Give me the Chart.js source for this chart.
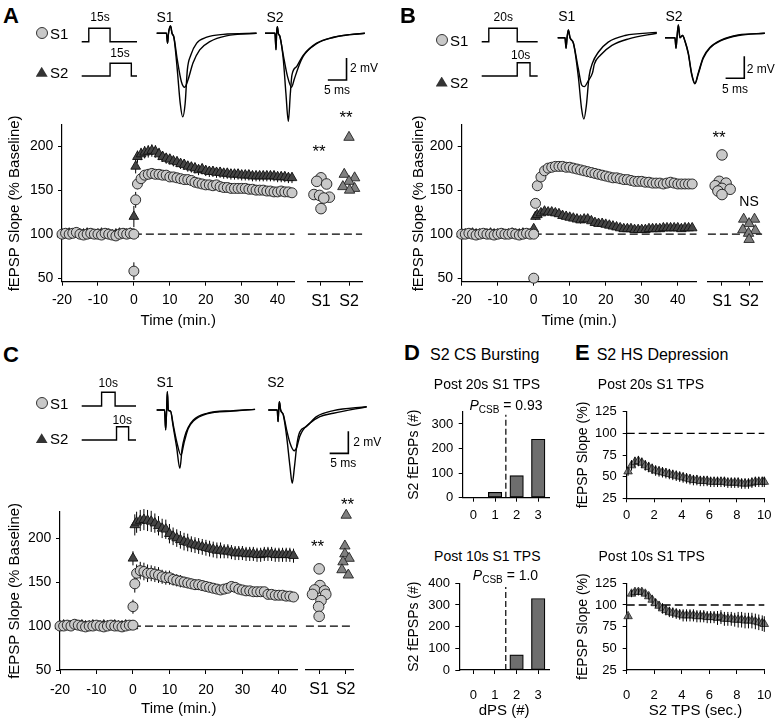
<!DOCTYPE html>
<html><head><meta charset="utf-8">
<script src="https://cdn.jsdelivr.net/npm/chart.js@4.4.1/dist/chart.umd.min.js"></script>
<style>
html,body{margin:0;padding:0;background:#fff;overflow:hidden;}
#root{position:relative;width:775px;height:723px;overflow:hidden;font-family:'Liberation Sans',Arial,Helvetica,sans-serif;color:#000;}
#root canvas{position:absolute;}
.t{position:absolute;line-height:1;white-space:nowrap;}
.t sub{font-size:10px;vertical-align:-3px;line-height:0;}
.mc{position:absolute;width:10px;height:10px;border-radius:50%;background:#c8c8c8;border:1px solid #333;transform:translate(-50%,-50%);}
.mt{position:absolute;width:12px;height:10px;background:#333;clip-path:polygon(50% 0,100% 100%,0 100%);transform:translate(-50%,-50%);}
</style></head><body><div id="root"></div>
<script>
// ---------------- DATA ----------------
const baseTimes = [-20,-19,-18,-17,-16,-15,-14,-13,-12,-11,-10,-9,-8,-7,-6,-5,-4,-3,-2,-1,0];
const postTimes = [0,0.5,1,2,3,4,5,6,7,8,9,10,11,12,13,14,15,16,17,18,19,20,21,22,23,24,25,26,27,28,29,30,31,32,33,34,35,36,37,38,39,40,41,42,43,44];
const timeTicks = [-20,-10,0,10,20,30,40];
const slopeTicks = [50,100,150,200];
const sideCategories = ['S1','S2'];
const baseSem = [2,2,2,2,2,2,2,2,2,2,2,2,2,2,2,2,2,2,2,2,2];

// Panel A
const aS1Base = [100,101,100,101,102,100,99,100,101,100,100,99,101,100,99,98,100,101,100,101,100];
const aS1Post = [58,139,157,163,167,168,169,168,168,167,167,165,165,164,163,162,162,161,159,158,157,156,156,155,156,154,153,153,152,152,152,152,152,151,151,150,150,150,149,149,148,148,149,148,148,147];
const aS1Sem  = [10,9,6,5,5,4,4,4,4,4,4,4,4,4,4,4,4,3,3,3,3,3,3,3,3,3,3,3,3,3,3,3,3,3,3,3,3,3,3,3,3,3,3,3,3,3];
const aS2Base = [100,100,101,100,101,100,100,101,100,99,100,101,100,100,99,100,101,100,100,101,100];
const aS2Post = [120,177,188,191,193,194,195,194,191,188,186,185,183,182,180,179,177,176,175,173,174,172,171,171,170,170,169,169,168,168,168,167,167,167,166,166,166,166,166,166,166,165,165,165,164,164];
const aS2Sem  = [12,8,7,7,7,7,7,7,7,6,6,6,6,6,6,6,6,6,6,6,6,6,6,6,6,6,6,6,6,6,6,6,6,6,6,6,6,6,6,6,6,6,6,6,6,6];
const aS1Side  = [164,160,157,145,144,142,141,129];
const aS1SideX = [1.0,0.85,1.2,0.75,0.95,1.3,1.1,1.0];
const aS2Side  = [210,168,164,160,154,152,150];
const aS2SideX = [2.0,1.83,2.2,2.0,1.78,2.2,2.02];

// Panel B
const bS1Base = [100,100,101,100,99,100,101,100,100,99,100,101,100,100,101,100,99,100,101,100,100];
const bS1Post = [50,135,155,165,172,175,176,177,177,177,176,176,175,174,173,172,171,170,169,168,167,166,165,164,164,163,162,162,161,160,160,160,159,159,158,158,158,157,158,159,158,157,157,157,157,157];
const bS1Sem  = [4,5,4,3,3,3,3,3,3,3,3,3,3,3,3,3,3,3,3,3,3,3,3,3,3,3,3,3,3,3,3,3,3,3,3,3,3,3,3,3,3,3,3,3,3,3];
const bS2Base = [100,100,100,101,100,100,99,100,101,100,100,100,99,100,101,100,100,101,100,100,101];
const bS2Post = [106,120,122,124,126,125,125,124,123,121,120,119,118,117,116,117,117,115,113,112,112,111,110,109,108,107,106,106,106,105,105,105,105,106,106,106,106,107,107,107,107,107,106,107,107,107];
const bS2Sem  = [4,4,4,4,4,4,4,4,4,4,4,4,4,4,4,4,4,3,3,3,3,3,3,3,3,3,3,3,3,3,3,3,3,3,3,3,3,3,3,3,3,3,3,3,3,3];
const bS1Side  = [190,160,158,155,152,151,149,145];
const bS1SideX = [1.0,0.9,1.15,0.75,1.0,1.3,0.85,1.0];
const bS2Side  = [117,117,112,105,104,101,94];
const bS2SideX = [1.8,2.2,2.0,1.77,2.23,1.98,2.0];

// Panel C
const cS1Base = [100,100,101,100,102,101,100,99,100,100,101,100,99,100,101,100,100,99,100,101,101];
const cS1Post = [122,148,160,163,162,160,160,159,158,156,155,155,153,152,151,150,149,148,147,147,146,145,144,143,142,141,142,143,145,144,142,141,140,140,139,139,139,139,136,136,135,135,135,134,134,133];
const cS1Sem  = [8,10,10,10,10,10,9,9,9,8,8,8,7,7,7,6,6,6,6,6,6,5,5,5,5,5,5,5,5,5,5,5,5,5,4,4,4,4,4,4,4,4,4,4,4,4];
const cS2Base = [100,101,100,100,101,100,101,100,100,101,100,100,101,100,100,101,100,100,101,100,100];
const cS2Post = [177,215,218,220,221,220,219,217,214,211,210,205,202,200,198,196,195,193,192,191,190,189,188,187,186,186,185,185,184,183,183,183,182,182,182,181,181,182,182,182,181,181,181,181,181,180];
const cS2Sem  = [8,12,12,12,12,12,12,11,11,11,11,11,10,10,10,10,10,9,9,9,9,9,9,9,9,9,8,8,8,8,8,8,8,8,8,8,8,8,8,8,8,8,8,8,8,8];
const cS1Side  = [165,146,141,140,136,136,129,122,111];
const cS1SideX = [1.0,1.03,0.83,1.2,0.75,1.25,1.07,0.98,1.0];
const cS2Side  = [226,191,182,177,173,164,158];
const cS2SideX = [2.02,1.97,1.97,2.13,1.9,1.86,2.1];

// Panel D
const dpsCategories = [0,1,2,3];
const dTopCounts = [0,22,90,238];
const dBotCounts = [0,0,70,330];
const csbThreshold = 1.5;

// Panel E
const eTimes = [0.1,0.35,0.6,0.85,1.1,1.35,1.6,1.85,2.1,2.35,2.6,2.85,3.1,3.35,3.6,3.85,4.1,4.35,4.6,4.85,5.1,5.35,5.6,5.85,6.1,6.35,6.6,6.85,7.1,7.35,7.6,7.85,8.1,8.35,8.6,8.85,9.1,9.35,9.6,9.85,10];
const eTopSlope = [56,63,67,68,66,63,61,59,57,56,55,54,53,52,51,50,49,48,47,46,46,45,45,45,44,44,44,44,44,43,43,43,43,42,42,42,43,44,44,44,44];
const eTopSem   = [5,6,6,6,6,6,6,6,6,6,6,6,6,6,6,6,6,6,6,6,6,6,6,6,6,6,6,6,6,6,6,6,6,6,6,6,6,6,6,6,6];
const eBotSlope = [87,113,115,115,115,113,110,106,102,99,96,94,92,91,90,89,88,88,88,88,87,87,87,86,86,86,85,86,84,84,84,83,83,83,82,82,82,81,80,79,78];
const eBotSem   = [3,4,4,4,4,4,4,5,5,5,6,6,6,6,6,6,7,7,7,7,7,7,7,7,7,7,8,8,8,8,8,8,9,9,9,9,9,9,9,9,9];
const eXTicks = [0,2,4,6,8,10];
const eYTicks = [25,50,75,100,125];

// Stimulus protocol (seconds)
const pulseLevels = [0,0,1,1,0,0];
const aPulseS1 = [0,5,5,20,20,39];
const aPulseS2 = [0,20,20,35,35,39];
const bPulseS1 = [0,5,5,25,25,39.4];
const bPulseS2 = [0,25,25,34,34,39.4];
const cPulseS1 = [0,14,14,23.5,23.5,38.2];
const cPulseS2 = [0,24.5,24.5,33,33,38.2];

// Example fEPSP traces (ms, mV)
const aS1TrT1 = [0,2.6,2.9,3.15,3.7,4.1,4.6,5.5,6.3,6.95,7.6,8.2,9.1,10.7,13.4,17.8,26.7];
const aS1TrV1 = [0,0,-0.9,0,0.67,0,-0.36,-3.3,-6.4,-7.6,-6.4,-3.3,-2.0,-0.9,-0.35,-0.1,0];
const aS1TrT2 = [0,2.6,2.9,3.15,3.7,4.1,4.6,5.5,6.6,7.5,8.4,9.7,11.5,14.2,18.6,26.7];
const aS1TrV2 = [0,0,-0.9,0,0.67,0,-0.36,-2.4,-4.4,-4.9,-4.2,-2.7,-1.5,-0.76,-0.24,0];
const aS2TrT1 = [0,2.67,2.94,3.1,3.3,3.56,4.0,4.9,5.6,6.24,6.77,7.2,8.5,10.2,13.8,18.3,22.7,26.7];
const aS2TrV1 = [0,0,-1.5,0,0.6,0,-0.3,-2.4,-5.5,-8.0,-5.5,-3.8,-3.0,-2.0,-0.9,-0.36,-0.12,0];
const aS2TrT2 = [0,2.67,2.94,3.1,3.3,3.56,4.0,4.9,6.0,7.1,7.8,8.9,10.2,13.8,18.3,22.7,26.7];
const aS2TrV2 = [0,0,-1.5,0,0.6,0,-0.3,-2.0,-3.9,-4.9,-4.2,-3.1,-2.1,-0.95,-0.38,-0.12,0];
const bS1TrT1 = [0,1.96,2.23,2.5,2.85,3.3,4.2,5.5,6.4,7.0,7.65,8.4,9.3,10.9,13.5,18.0,26.5];
const bS1TrV1 = [0,0,-0.97,0,0.7,0,-0.5,-3.5,-6.5,-7.4,-6.2,-3.5,-2.3,-1.3,-0.4,0.2,0.48];
const bS1TrT2 = [0,1.96,2.23,2.5,2.85,3.3,4.2,5.5,6.4,7.1,8.2,9.3,9.8,11.4,14.5,19.0,26.5];
const bS1TrV2 = [0,0,-0.97,0,0.7,0,-0.5,-2.8,-4.3,-4.45,-3.9,-3.2,-2.4,-1.6,-0.7,-0.1,0.4];
const bS2TrT1 = [0,2.67,2.94,3.2,3.57,4.0,4.7,5.35,6.24,7.1,8.0,8.9,10.2,12.0,15.1,19.6,26.7];
const bS2TrV1 = [0,0,-0.97,0,1.15,0,0.2,-0.3,-1.4,-3.2,-4.15,-3.2,-1.8,-0.9,-0.2,0.25,0.4];
const bS2TrV2 = [0,0,-0.97,0,1.15,0,0.2,-0.35,-1.5,-3.3,-4.2,-3.3,-1.9,-0.95,-0.25,0.2,0.4];
const cS1TrT1 = [0,2.1,2.4,2.65,2.85,3.1,3.7,4.4,5.3,6.2,6.8,7.5,8.4,9.8,13.4,20.5,26.3];
const cS1TrV1 = [0,0,-1.8,0,1.67,0,-0.1,-1.5,-3.3,-5.3,-3.5,-2.4,-1.6,-0.9,-0.3,-0.06,0.06];
const cS1TrT2 = [0,2.1,2.4,2.65,2.85,3.1,3.7,4.4,5.3,6.5,7.3,8.4,9.8,13.4,20.5,26.3];
const cS1TrV2 = [0,0,-1.8,0,1.67,0,-0.1,-1.3,-2.8,-4.1,-3.0,-1.7,-1.0,-0.35,-0.1,0.06];
const cS2TrT1 = [0,2.4,2.6,2.78,2.96,3.3,4.0,4.9,5.8,6.4,7.0,7.7,8.4,10.2,12.9,17.4,26.3];
const cS2TrV1 = [0,0,-1.06,0,0.76,0,-0.45,-2.4,-5.15,-6.67,-5.15,-3.0,-2.0,-1.5,-0.6,-0.06,0.3];
const cS2TrT2 = [0,2.4,2.6,2.78,2.96,3.3,4.0,4.9,5.8,6.9,7.6,8.4,9.3,11.1,13.8,17.4,26.3];
const cS2TrV2 = [0,0,-1.06,0,0.76,0,-0.4,-1.8,-3.0,-3.7,-3.4,-2.4,-1.8,-1.2,-0.6,-0.3,0.3];
const scaleBarMs = 5, scaleBarMv = 2;

// ---------------- RENDERING ----------------
const FONT = "'Liberation Sans', Arial, Helvetica, sans-serif";
Chart.defaults.font.family = FONT;
Chart.defaults.color = '#000';
const root = document.getElementById('root');
const pts = (xs, ys) => xs.map((x, i) => ({x: x, y: ys[i]}));

function drawErr(chart) {
  const ctx = chart.ctx, ys = chart.scales.y;
  chart.data.datasets.forEach((ds, i) => {
    if (!ds.errors) return;
    const meta = chart.getDatasetMeta(i);
    ctx.save(); ctx.strokeStyle = '#000'; ctx.lineWidth = 1;
    meta.data.forEach((el, j) => {
      const e = ds.errors[j]; if (e == null) return;
      const v = ds.data[j].y;
      ctx.beginPath();
      ctx.moveTo(el.x, ys.getPixelForValue(v - e));
      ctx.lineTo(el.x, ys.getPixelForValue(v + e));
      ctx.stroke();
    });
    ctx.restore();
  });
}
const errBack = {id: 'errBack', beforeDatasetsDraw: drawErr};
const errFront = {id: 'errFront', afterDatasetsDraw: drawErr};

function mount(area, m, cfg, plugins) {
  const cl = Math.floor(area.l - m.l), ct = Math.floor(area.t - m.t);
  const cr = Math.ceil(area.r + m.r), cb = Math.ceil(area.b + m.b);
  const W = cr - cl, H = cb - ct;
  const c = document.createElement('canvas');
  c.width = W; c.height = H;
  c.style.left = cl + 'px'; c.style.top = ct + 'px';
  c.style.width = W + 'px'; c.style.height = H + 'px';
  root.appendChild(c);
  const L = area.l - cl, Tp = area.t - ct, R = cr - area.r, B = cb - area.b;
  const sx = cfg.options.scales.x, sy = cfg.options.scales.y;
  const xShow = sx.display !== false, yShow = sy.display !== false;
  if (yShow) sy.afterFit = s => { s.width = L; };
  if (xShow) sx.afterFit = s => { s.height = B; };
  cfg.options.layout = {padding: {left: yShow ? 0 : L, top: Tp, right: R, bottom: xShow ? 0 : B}};
  Object.assign(cfg.options, {responsive: false, maintainAspectRatio: false, animation: false, devicePixelRatio: 1, events: []});
  cfg.options.plugins = {legend: {display: false}, tooltip: {enabled: false}};
  if (plugins) cfg.plugins = plugins;
  return new Chart(c, cfg);
}

function axis(o) {
  return {
    type: 'linear', min: o.min, max: o.max, offset: false,
    afterBuildTicks: s => { s.ticks = o.ticks.map(v => ({value: v})); },
    ticks: {font: {size: o.fs}, padding: o.pad, color: '#000', autoSkip: false, maxRotation: 0, minRotation: 0,
            callback: o.fmt || (v => String(v))},
    grid: {display: true, drawOnChartArea: false, drawTicks: true, tickLength: 4, color: '#000', lineWidth: 1, offset: false},
    border: {display: true, color: '#000', width: 1.2},
    title: o.title ? {display: true, text: o.title, font: {size: o.ts}, padding: 0, color: '#000'} : {display: false}
  };
}
const hidden = (min, max) => ({type: 'linear', display: false, min: min, max: max});

const circleStyle = {pointStyle: 'circle', pointRadius: 5, pointBackgroundColor: '#c9c9c9', pointBorderColor: '#1a1a1a', pointBorderWidth: 0.9, showLine: false, clip: false};
const triStyle = {pointStyle: 'triangle', pointRadius: 5.6, pointBackgroundColor: '#454545', pointBorderColor: '#111', pointBorderWidth: 0.9, showLine: false, clip: false};
const triSide = Object.assign({}, triStyle, {pointRadius: 6, pointBackgroundColor: '#808080', pointBorderColor: '#222'});
const circSide = Object.assign({}, circleStyle, {pointRadius: 5.3});
const dashStyle = {borderColor: '#000', borderWidth: 1.3, borderDash: [8, 4], pointRadius: 0, showLine: true, clip: false, tension: 0};

function timeCourse(P) {
  const xs = baseTimes.concat(postTimes);
  mount(P.main, {l: P.yl, t: 16, r: 6, b: P.xb}, {
    type: 'line',
    data: {datasets: [
      Object.assign({}, circleStyle, {data: pts(xs, P.s1b.concat(P.s1p)), errors: baseSem.concat(P.s1e)}),
      Object.assign({}, triStyle, {data: pts(xs, P.s2b.concat(P.s2p)), errors: baseSem.concat(P.s2e)}),
      Object.assign({}, dashStyle, {data: [{x: 0, y: 100}, {x: P.xMax, y: 100}]})
    ]},
    options: {scales: {
      x: axis({min: -20, max: P.xMax, ticks: timeTicks, fs: 14, pad: P.xpad, title: 'Time (min.)', ts: 15}),
      y: axis({min: P.yMin, max: P.yMax, ticks: slopeTicks, fs: 14, pad: 4.7, title: 'fEPSP Slope (% Baseline)', ts: 15})
    }}
  }, [errBack]);
  mount(P.side, {l: 4, t: 16, r: 6, b: P.xb}, {
    type: 'line',
    data: {datasets: [
      Object.assign({}, circSide, {data: pts(P.s1sx, P.s1s)}),
      Object.assign({}, triSide, {data: pts(P.s2sx, P.s2s)}),
      Object.assign({}, dashStyle, {data: [{x: P.sMin, y: 100}, {x: P.sMax, y: 100}]})
    ]},
    options: {scales: {
      x: axis({min: P.sMin, max: P.sMax, ticks: [1, 2], fmt: v => sideCategories[v - 1], fs: 16, pad: 6.4}),
      y: hidden(P.yMin, P.yMax)
    }}
  });
}

timeCourse({main: {l: 62, t: 125, r: 295, b: 281.7}, side: {l: 305, t: 125, r: 363, b: 281.7},
  yl: 56, xb: 48.3, xpad: 6, xMax: 44.7, yMin: 46, yMax: 224, sMin: 0.533, sMax: 2.467,
  s1b: aS1Base, s1p: aS1Post, s1e: aS1Sem, s2b: aS2Base, s2p: aS2Post, s2e: aS2Sem,
  s1s: aS1Side, s1sx: aS1SideX, s2s: aS2Side, s2sx: aS2SideX});
timeCourse({main: {l: 461.7, t: 125, r: 697, b: 281.7}, side: {l: 705, t: 125, r: 763, b: 281.7},
  yl: 51.7, xb: 48.3, xpad: 6, xMax: 45.2, yMin: 46, yMax: 224, sMin: 0.48, sMax: 2.48,
  s1b: bS1Base, s1p: bS1Post, s1e: bS1Sem, s2b: bS2Base, s2p: bS2Post, s2e: bS2Sem,
  s1s: bS1Side, s1sx: bS1SideX, s2s: bS2Side, s2sx: bS2SideX});
timeCourse({main: {l: 60, t: 511.7, r: 298, b: 670}, side: {l: 303, t: 511.7, r: 357, b: 670},
  yl: 54, xb: 48, xpad: 7.6, xMax: 45.1, yMin: 50, yMax: 230, sMin: 0.5, sMax: 2.3,
  s1b: cS1Base, s1p: cS1Post, s1e: cS1Sem, s2b: cS2Base, s2p: cS2Post, s2e: cS2Sem,
  s1s: cS1Side, s1sx: cS1SideX, s2s: cS2Side, s2sx: cS2SideX});

// Panel D bars
function bars(area, m, counts, yMax, yTicks, xMin, linePeak, xpad, xTitle) {
  mount(area, m, {
    type: 'bar',
    data: {datasets: [
      {type: 'bar', data: pts(dpsCategories, counts), backgroundColor: '#6e6e6e', borderColor: '#000', borderWidth: 1.2, borderSkipped: false, barThickness: 13.5},
      Object.assign({type: 'line'}, dashStyle, {borderDash: [6, 3], borderWidth: 1.2, data: [{x: csbThreshold, y: 0}, {x: csbThreshold, y: linePeak}]})
    ]},
    options: {scales: {
      x: axis({min: xMin, max: 3.5, ticks: dpsCategories, fs: 13, pad: xpad, title: xTitle, ts: 15}),
      y: axis({min: 0, max: yMax, ticks: yTicks, fs: 13, pad: 5.4, title: 'S2 fEPSPs (#)', ts: 14})
    }}
  });
}
bars({l: 462.7, t: 411.7, r: 549, b: 497.7}, {l: 56, t: 16, r: 10, b: 26}, dTopCounts, 350, [0, 100, 200, 300], -0.5, 338, 5.5, null);
bars({l: 459.3, t: 583.3, r: 549, b: 670}, {l: 52.7, t: 16, r: 10, b: 50}, dBotCounts, 400, [0, 100, 200, 300, 400], -0.65, 383, 13.2, 'dPS (#)');

// Panel E
function hsDep(area, m, vals, sem, xpad, xTitle) {
  mount(area, m, {
    type: 'line',
    data: {datasets: [
      {pointStyle: 'triangle', pointRadius: 4.9, pointBackgroundColor: '#808080', pointBorderColor: '#222', pointBorderWidth: 0.8, showLine: false, clip: false, data: pts(eTimes, vals), errors: sem},
      Object.assign({}, dashStyle, {data: [{x: 0, y: 100}, {x: 10, y: 100}]})
    ]},
    options: {scales: {
      x: axis({min: 0, max: 10, ticks: eXTicks, fs: 13, pad: xpad, title: xTitle, ts: 15}),
      y: axis({min: 25, max: 125, ticks: eYTicks, fs: 13, pad: 6, title: 'fEPSP Slope (%)', ts: 14})
    }}
  }, [errFront]);
}
hsDep({l: 626.7, t: 411.7, r: 764.3, b: 498.3}, {l: 51, t: 16, r: 24, b: 26}, eTopSlope, eTopSem, 5, null);
hsDep({l: 626.7, t: 583.3, r: 764.3, b: 670}, {l: 51, t: 16, r: 24, b: 50}, eBotSlope, eBotSem, 13.2, 'S2 TPS (sec.)');

// Stimulus protocol schematics
function pulse(x0, x1, topPy, basePy, times, total) {
  mount({l: x0, t: topPy, r: x1, b: basePy}, {l: 3, t: 3, r: 3, b: 3}, {
    type: 'line',
    data: {datasets: [{data: pts(times, pulseLevels), borderColor: '#000', borderWidth: 1.4, pointRadius: 0, tension: 0, clip: false}]},
    options: {scales: {x: hidden(0, total), y: hidden(0, 1)}}
  });
}
pulse(81.7, 137, 28.3, 41.7, aPulseS1, 39);
pulse(81.7, 137, 63.3, 76, aPulseS2, 39);
pulse(481.7, 537.7, 28.3, 41.7, bPulseS1, 39.4);
pulse(481.7, 537.7, 62.7, 76, bPulseS2, 39.4);
pulse(81.7, 136, 392.3, 406, cPulseS1, 38.2);
pulse(81.7, 136, 426.7, 440, cPulseS2, 38.2);

// Example traces
function trace(ox, by, tr, bar) {
  const ds = tr.map(p => ({data: pts(p[0], p[1]), borderColor: '#000', borderWidth: 1.4, pointRadius: 0, cubicInterpolationMode: 'monotone', clip: false}));
  if (bar) ds.push({data: [{x: bar[0] - scaleBarMs, y: bar[1]}, {x: bar[0], y: bar[1]}, {x: bar[0], y: bar[1] + scaleBarMv}],
                    borderColor: '#000', borderWidth: 1.6, pointRadius: 0, tension: 0, clip: false});
  mount({l: ox, t: by - 19.8, r: ox + 99.86, b: by + 92.4}, {l: 3, t: 3, r: 3, b: 3}, {
    type: 'line', data: {datasets: ds},
    options: {scales: {x: hidden(0, 26.7), y: hidden(-8.4, 1.8)}}
  });
}
trace(156.7, 33.3, [[aS1TrT1, aS1TrV1], [aS1TrT2, aS1TrV2]]);
trace(265, 33.3, [[aS2TrT1, aS2TrV1], [aS2TrT2, aS2TrV2]], [21.8, -4.25]);
trace(557.7, 37.7, [[bS1TrT1, bS1TrV1], [bS1TrT2, bS1TrV2]]);
trace(665, 37.7, [[bS2TrT1, bS2TrV1], [bS2TrT1, bS2TrV2]], [21.2, -3.69]);
trace(156.7, 410, [[cS1TrT1, cS1TrV1], [cS1TrT2, cS1TrV2]]);
trace(268.3, 410, [[cS2TrT1, cS2TrV1], [cS2TrT2, cS2TrV2]], [21.4, -3.94]);

// Text annotations
const texts = [
  ['A', 3, 16, 22, 'l', 'bold'], ['15s', 100, 16.7, 12, 'c'], ['15s', 120, 53, 12, 'c'],
  ['S1', 50, 33.3, 15, 'l'], ['S2', 50, 71.7, 15, 'l'], ['S1', 165, 16.7, 14, 'c'], ['S2', 275, 16.7, 14, 'c'],
  ['2 mV', 350, 68, 12, 'l'], ['5 ms', 337, 90, 12, 'c'], ['**', 319, 150.5, 17, 'c'], ['**', 346, 116.8, 17, 'c'],
  ['B', 400, 16, 22, 'l', 'bold'], ['20s', 503.3, 16.7, 12, 'c'], ['10s', 520.7, 55, 12, 'c'],
  ['S1', 450, 40, 15, 'l'], ['S2', 450, 81.7, 15, 'l'], ['S1', 566.7, 15.5, 14, 'c'], ['S2', 674, 15.5, 14, 'c'],
  ['2 mV', 746.7, 69, 12, 'l'], ['5 ms', 735, 89, 12, 'c'], ['**', 719, 136.8, 17, 'c'], ['NS', 749, 201, 14, 'c'],
  ['C', 3, 355, 22, 'l', 'bold'], ['10s', 108.3, 383.3, 12, 'c'], ['10s', 122.3, 420, 12, 'c'],
  ['S1', 50, 403.3, 15, 'l'], ['S2', 50, 438.3, 15, 'l'], ['S1', 165, 381.7, 14, 'c'], ['S2', 275.8, 381.7, 14, 'c'],
  ['2 mV', 353.3, 441.7, 12, 'l'], ['5 ms', 343.3, 463.3, 12, 'c'], ['**', 317.5, 545.8, 17, 'c'], ['**', 347.5, 504.4, 17, 'c'],
  ['D', 404, 353, 22, 'l', 'bold'], ['S2 CS Bursting', 430, 355, 16, 'l'],
  ['Post 20s S1 TPS', 487, 384, 14, 'c'], ['Post 10s S1 TPS', 487.3, 556, 14, 'c'],
  ['<i>P</i><sub>CSB</sub> = 0.93', 506, 405, 14, 'c'], ['<i>P</i><sub>CSB</sub> = 1.0', 505.5, 575, 14, 'c'],
  ['E', 575, 353, 22, 'l', 'bold'], ['S2 HS Depression', 596.7, 355, 16, 'l'],
  ['Post 20s S1 TPS', 651, 384, 14, 'c'], ['Post 10s S1 TPS', 651.7, 556, 14, 'c']
];
texts.forEach(t => {
  const d = document.createElement('div');
  d.className = 't';
  d.innerHTML = t[0];
  d.style.left = t[1] + 'px'; d.style.top = t[2] + 'px';
  d.style.fontSize = t[3] + 'px';
  if (t[5]) d.style.fontWeight = t[5];
  d.style.transform = t[4] === 'c' ? 'translate(-50%,-50%)' : 'translate(0,-50%)';
  root.appendChild(d);
});
[[41.7, 33.3, 'mc'], [41.7, 71.7, 'mt'], [441.7, 40, 'mc'], [441.7, 81.5, 'mt'], [41.7, 403.3, 'mc'], [41.7, 438.3, 'mt']].forEach(p => {
  const d = document.createElement('div');
  d.className = p[2]; d.style.left = p[0] + 'px'; d.style.top = p[1] + 'px';
  root.appendChild(d);
});
</script></body></html>
